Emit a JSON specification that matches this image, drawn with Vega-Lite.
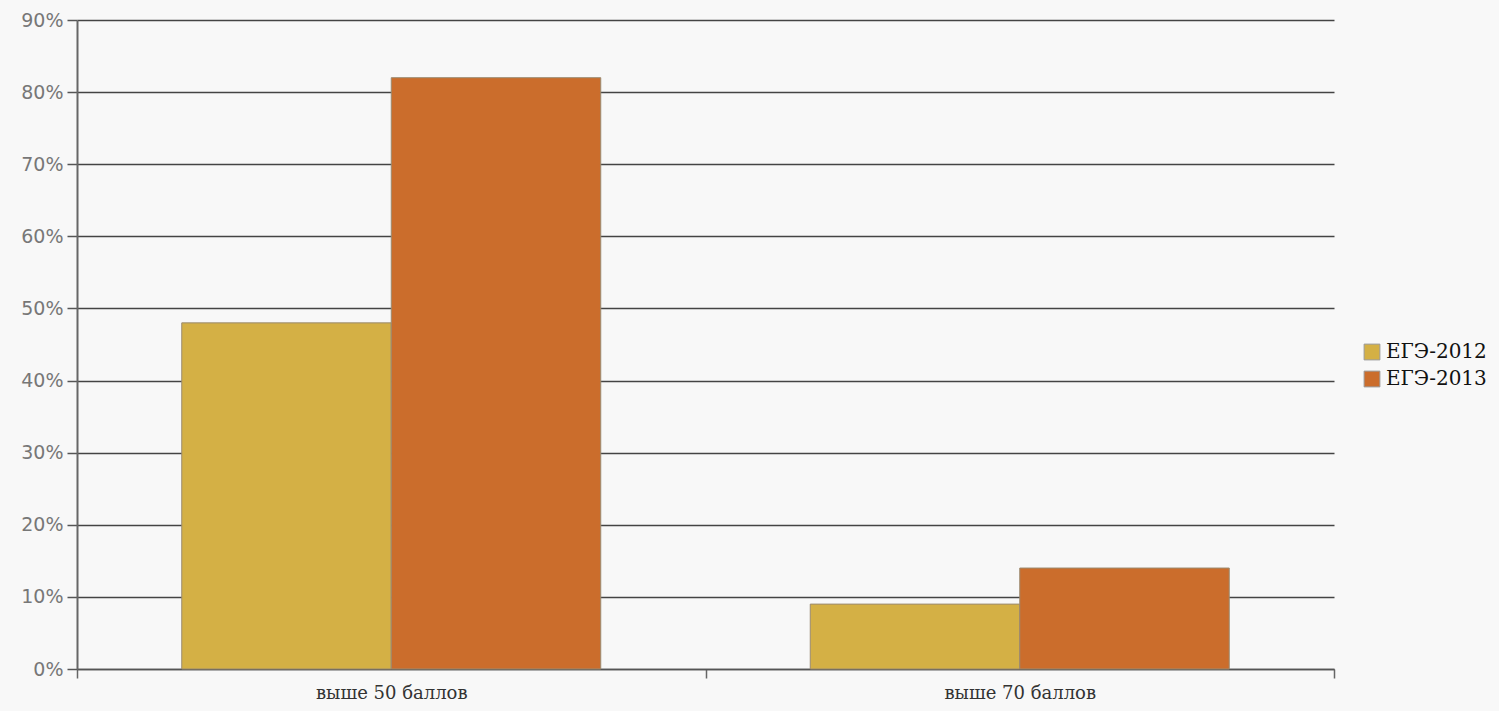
{
  "$schema": "https://vega.github.io/schema/vega-lite/v6.json",
  "width": 1257,
  "height": 649,
  "autosize": {"type": "none"},
  "padding": {"left": 77, "top": 20, "right": 165, "bottom": 42},
  "background": "#f8f8f8",
  "data": {
    "values": [
      {"cat": "выше 50 баллов", "series": "ЕГЭ-2012", "value": 48},
      {"cat": "выше 50 баллов", "series": "ЕГЭ-2013", "value": 82},
      {"cat": "выше 70 баллов", "series": "ЕГЭ-2012", "value": 9},
      {"cat": "выше 70 баллов", "series": "ЕГЭ-2013", "value": 14}
    ]
  },
  "config": {
    "view": {"stroke": null}
  },
  "mark": {"type": "bar", "stroke": "#9a8a70", "strokeWidth": 1},
  "encoding": {
    "x": {
      "field": "cat",
      "type": "nominal",
      "scale": {"paddingInner": 0, "paddingOuter": 0},
      "axis": {
        "title": null,
        "labelAngle": 0,
        "labelFont": "DejaVu Serif",
        "labelFontSize": 18,
        "labelColor": "#333333",
        "labelPadding": 6,
        "tickBand": "extent",
        "tickSize": 9,
        "tickColor": "#666666",
        "tickWidth": 1.5,
        "domainColor": "#555555",
        "domainWidth": 1.5,
        "grid": false
      }
    },
    "xOffset": {"field": "series", "type": "nominal", "scale": {"paddingInner": 0, "paddingOuter": 0.5}},
    "y": {
      "field": "value",
      "type": "quantitative",
      "scale": {"domain": [0, 90], "nice": false},
      "axis": {
        "title": null,
        "values": [0, 10, 20, 30, 40, 50, 60, 70, 80, 90],
        "labelExpr": "datum.value + '%'",
        "labelFont": "DejaVu Sans",
        "labelFontSize": 19,
        "labelColor": "#777777",
        "labelPadding": 4,
        "tickSize": 10,
        "tickColor": "#555555",
        "tickWidth": 1.5,
        "domainColor": "#666666",
        "domainWidth": 2,
        "grid": true,
        "gridColor": "#444444",
        "gridWidth": 1.5
      }
    },
    "color": {
      "field": "series",
      "type": "nominal",
      "scale": {"domain": ["ЕГЭ-2012", "ЕГЭ-2013"], "range": ["#d4b045", "#cb6d2c"]},
      "legend": {
        "title": null,
        "orient": "none",
        "legendX": 1285,
        "legendY": 322,
        "symbolType": "square",
        "symbolSize": 250,
        "symbolStrokeColor": "#999999",
        "symbolStrokeWidth": 1,
        "labelFont": "DejaVu Serif",
        "labelFontSize": 20,
        "labelColor": "#111111",
        "labelOffset": 4,
        "rowPadding": 7
      }
    }
  }
}
